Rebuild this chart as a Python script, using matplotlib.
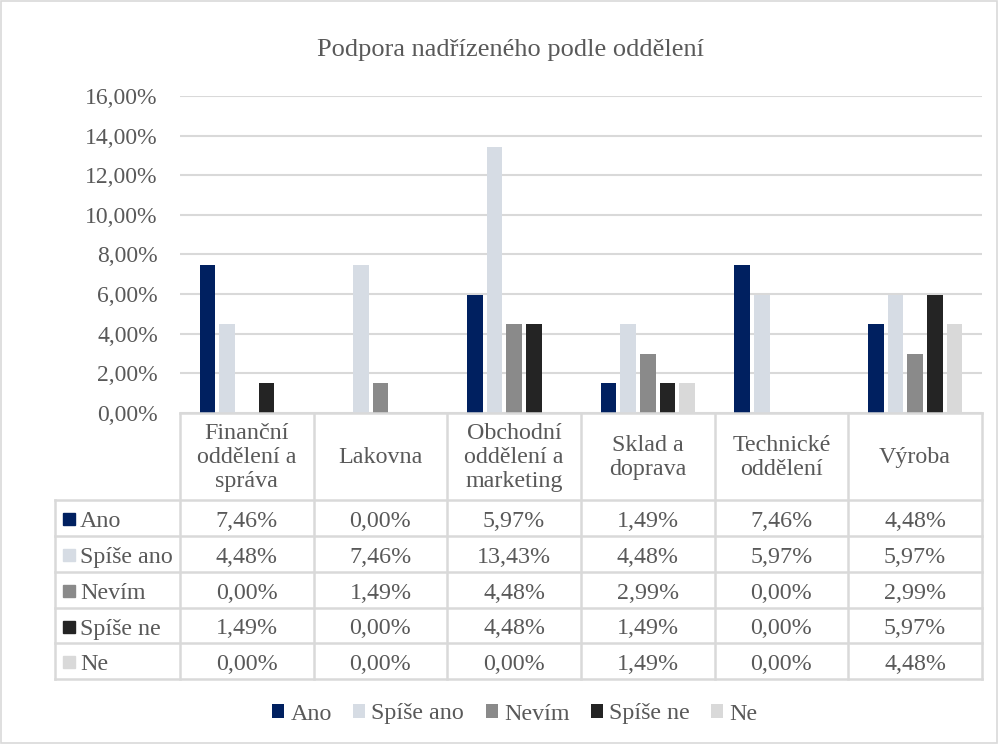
import matplotlib
matplotlib.use("Agg")
import matplotlib.pyplot as plt
from matplotlib.patches import Patch, Rectangle
from matplotlib.ticker import FuncFormatter
import numpy as np

plt.rcParams['font.family'] = ['Liberation Serif', 'DejaVu Serif']

categories = ["Finanční\noddělení a\nspráva", "Lakovna", "Obchodní\noddělení a\nmarketing",
              "Sklad a\ndoprava", "Technické\noddělení", "Výroba"]
series_names = ["Ano", "Spíše ano", "Nevím", "Spíše ne", "Ne"]
ano = [7.46, 0.00, 5.97, 1.49, 7.46, 4.48]
spise_ano = [4.48, 7.46, 13.43, 4.48, 5.97, 5.97]
nevim = [0.00, 1.49, 4.48, 2.99, 0.00, 2.99]
spise_ne = [1.49, 0.00, 4.48, 1.49, 0.00, 5.97]
ne = [0.00, 0.00, 0.00, 1.49, 0.00, 4.48]
series = [ano, spise_ano, nevim, spise_ne, ne]
colors = ["#002060", "#D6DCE4", "#8A8A8A", "#242424", "#D9D9D9"]
title = "Podpora nadřízeného podle oddělení"

W, H = 998, 744
TXT = "#595959"
GRID = "#D9D9D9"
FS = 17.3

fig = plt.figure(figsize=(W/100, H/100), dpi=100)
fig.patch.set_facecolor("white")

px_left, px_right = 180, 982
px_top, px_bottom = 96, 413
ax = fig.add_axes([px_left/W, 1-px_bottom/H, (px_right-px_left)/W, (px_bottom-px_top)/H])
x = np.arange(len(categories))
step = 0.147
width = 0.118
for i, (vals, col) in enumerate(zip(series, colors)):
    ax.bar(x + (i-2)*step, np.array(vals)/100, width=width, color=col, zorder=3, label=series_names[i])
ax.set_xlim(-0.5, len(categories)-0.5)
ax.set_ylim(0, 0.16)
ax.set_yticks(np.arange(0, 0.1601, 0.02))
ax.yaxis.set_major_formatter(FuncFormatter(lambda v, p: f"{v*100:.2f}%".replace(".", ",")))
ax.tick_params(axis='y', length=0, labelsize=17, labelcolor=TXT, pad=16)
ax.set_xticks([])
ax.grid(axis='y', color=GRID, linewidth=1.5, zorder=0)
for s in ax.spines.values():
    s.set_visible(False)

ov = fig.add_axes([0, 0, 1, 1], facecolor='none')
ov.set_xlim(0, W)
ov.set_ylim(H, 0)
ov.axis('off')

col_edges = np.linspace(px_left, px_right, len(categories)+1)
row_edges = [413, 500, 536, 572, 608, 643, 679]
tbl_left = 55
lc = GRID
lw = 1.8
ov.plot([px_left, px_right], [row_edges[0]]*2, color=lc, lw=lw)
for yv in row_edges[1:]:
    ov.plot([tbl_left, px_right], [yv, yv], color=lc, lw=lw)
for xv in col_edges:
    ov.plot([xv, xv], [row_edges[0], row_edges[-1]], color=lc, lw=lw)
ov.plot([tbl_left, tbl_left], [row_edges[1], row_edges[-1]], color=lc, lw=lw)

for j, cat in enumerate(categories):
    cx = (col_edges[j]+col_edges[j+1])/2
    ov.text(cx, (row_edges[0]+row_edges[1])/2 + 1, cat, ha='center', va='center',
            fontsize=FS, color=TXT, linespacing=1.18)

for i, (name, vals, col) in enumerate(zip(series_names, series, colors)):
    cy = (row_edges[i+1]+row_edges[i+2])/2 + 1
    ov.add_patch(Rectangle((63, cy-6), 12, 12, color=col))
    ov.text(80, cy, name, ha='left', va='center_baseline', fontsize=FS, color=TXT)
    for j, v in enumerate(vals):
        cx = (col_edges[j]+col_edges[j+1])/2
        ov.text(cx, cy, f"{v:.2f}%".replace(".", ","), ha='center', va='center_baseline',
                fontsize=FS, color=TXT)

ov.text(511, 50, title, ha='center', va='center', fontsize=19, color=TXT)

handles = [Patch(facecolor=c, edgecolor='none') for c in colors]
fig.legend(handles, series_names, loc='center', bbox_to_anchor=(515/W, 1-714/H), ncol=5,
           frameon=False, fontsize=FS, labelcolor=TXT, handlelength=0.5, handleheight=0.5,
           handletextpad=0.25, columnspacing=0.9)

ov.add_patch(Rectangle((0.5, 0.5), W-1.5, H-1.5, fill=False, edgecolor=GRID, lw=1.2))

fig.savefig("out.png", dpi=100, facecolor="white")
